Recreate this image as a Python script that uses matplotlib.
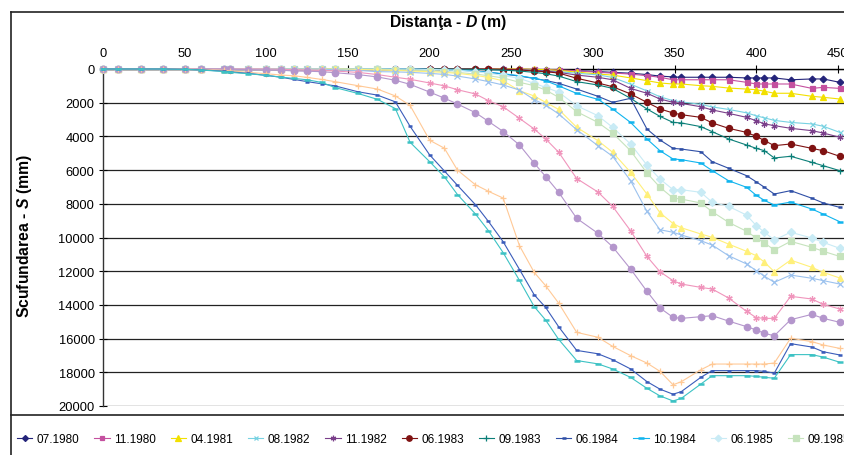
import matplotlib
matplotlib.use("Agg")
import matplotlib.pyplot as plt
from matplotlib.lines import Line2D

plt.rcParams['font.family'] = ['Liberation Sans', 'DejaVu Sans']
plt.rcParams['mathtext.fontset'] = 'custom'
plt.rcParams['mathtext.it'] = 'Liberation Sans:italic:bold'
plt.rcParams['mathtext.rm'] = 'Liberation Sans:bold'

# distance along profile (m)
dist = [0, 9, 23, 37, 50, 60, 74, 78, 89, 100, 109, 117, 125, 134, 142, 156, 168, 179, 188, 200,
        209, 217, 228, 236, 245, 255, 264, 271, 279, 290, 303, 312, 323, 333, 341, 349, 354, 366,
        373, 383, 394, 400, 405, 411, 421, 434, 441, 451]

names = ['07.1980', '11.1980', '04.1981', '08.1982', '11.1982', '06.1983', '09.1983', '06.1984',
         '10.1984', '06.1985', '09.1985', '06.1986', '09.1986', '06.1987', '09.1987', '06.1988',
         '09.1988', '06.1989']
n_legend_visible = 11

s_0780 = [0, 0, 0, 0, 0, 0, 0, 0, 0, 0, 0, 0, 0, 0, 0, 0, 0, 0, 0, 0, 0, 0, 0, 0, 0,
          20, 30, 40, 60, 100, 150, 200, 250, 330, 420, 470, 490, 490, 490, 490, 530, 530, 530, 530,
          640, 590, 590, 790]
s_1180 = [0, 0, 0, 0, 0, 0, 0, 0, 0, 0, 0, 0, 0, 0, 0, 0, 0, 0, 0, 0, 0, 0, 0, 0, 0,
          10, 20, 40, 60, 100, 200, 240, 300, 400, 490, 640, 640, 640, 640, 640, 790, 890, 890, 890,
          890, 1150, 1090, 1150]
s_0481 = [0, 0, 0, 0, 0, 0, 0, 0, 0, 0, 0, 0, 0, 0, 0, 0, 0, 0, 0, 0, 0, 0, 0, 0, 0,
          0, 20, 40, 80, 180, 300, 360, 530, 690, 830, 890, 890, 990, 1030, 1130, 1190, 1230, 1320,
          1440, 1440, 1620, 1680, 1780]
s_0882 = [0, 0, 0, 0, 0, 0, 0, 0, 0, 0, 0, 0, 0, 0, 0, 0, 0, 0, 0, 0, 10, 20, 20, 30, 40,
          60, 80, 110, 160, 250, 350, 500, 900, 1300, 1650, 1880, 1950, 2100, 2250, 2400, 2600, 2780,
          2900, 3050, 3170, 3260, 3400, 3760]
s_1182 = [0, 0, 0, 0, 0, 0, 0, 0, 0, 0, 0, 0, 0, 0, 0, 0, 0, 0, 0, 0, 0, 0, 0, 10, 20,
          40, 80, 120, 200, 360, 490, 640, 1150, 1440, 1780, 1980, 2040, 2240, 2430, 2630, 2870, 3070,
          3260, 3360, 3520, 3660, 3800, 4050]
s_0683 = [0, 0, 0, 0, 0, 0, 0, 0, 0, 0, 0, 0, 0, 0, 0, 0, 0, 0, 0, 0, 0, 0, 0, 10, 30,
          60, 120, 160, 240, 550, 830, 1050, 1480, 1980, 2370, 2610, 2710, 2870, 3200, 3520, 3760, 4000,
          4250, 4550, 4450, 4710, 4850, 5180]
s_0983 = [0, 0, 0, 0, 0, 0, 0, 0, 0, 0, 0, 0, 0, 0, 0, 0, 0, 0, 0, 0, 0, 10, 20, 40, 70,
          120, 200, 280, 420, 750, 950, 1150, 1740, 2370, 2810, 3170, 3200, 3420, 3720, 4150, 4510, 4710,
          4850, 5280, 5180, 5540, 5740, 6030]
s_0684 = [0, 0, 0, 0, 0, 0, 0, 0, 0, 0, 0, 0, 0, 0, 0, 0, 0, 0, 10, 20, 40, 60, 120, 200, 300,
          420, 560, 680, 850, 1190, 1620, 1980, 1740, 3560, 4210, 4710, 4750, 4910, 5500, 5890, 6330, 6700,
          7020, 7420, 7220, 7670, 7950, 8210]
s_1084 = [0, 0, 0, 0, 0, 0, 0, 0, 0, 0, 0, 0, 0, 0, 0, 0, 0, 0, 10, 20, 40, 70, 130, 200, 280,
          400, 550, 700, 1000, 1450, 1800, 2370, 3170, 4150, 4850, 5340, 5380, 5580, 6030, 6630, 7020, 7500,
          7800, 8070, 7900, 8310, 8610, 9060]
s_0685 = [0, 0, 0, 0, 0, 0, 0, 0, 0, 0, 0, 0, 0, 0, 0, 0, 0, 0, 0, 30, 50, 80, 150, 250, 380,
          560, 850, 1090, 1380, 2180, 2770, 3460, 4450, 5700, 6530, 7160, 7160, 7320, 7910, 8150, 8670, 9300,
          9690, 10150, 9690, 10030, 10290, 10640]
s_0985 = [0, 0, 0, 0, 0, 0, 0, 0, 0, 0, 0, 0, 0, 0, 0, 0, 0, 40, 60, 100, 150, 200, 300, 400, 530,
          790, 990, 1250, 1680, 2530, 3170, 3800, 4850, 6170, 7020, 7660, 7720, 7950, 8470, 9100, 9630, 10030,
          10330, 10740, 10230, 10580, 10820, 11120]
s_0686 = [0, 0, 0, 0, 0, 0, 0, 0, 0, 0, 0, 0, 0, 0, 0, 30, 50, 80, 120, 160, 200, 260, 380, 500, 700,
          1290, 1600, 1980, 2400, 3460, 4250, 4940, 6130, 7420, 8530, 9170, 9420, 9790, 9990, 10390, 10820,
          11080, 11470, 12030, 11340, 11770, 12070, 12400]
s_0986 = [0, 0, 0, 0, 0, 0, 0, 0, 0, 0, 0, 0, 0, 0, 50, 80, 160, 170, 200, 260, 320, 420, 590, 750, 950,
          1250, 1820, 2140, 2670, 3600, 4550, 5180, 6630, 8450, 9540, 9690, 9850, 10190, 10450, 11080, 11570,
          11970, 12300, 12660, 12230, 12420, 12560, 12760]
s_0687 = [0, 0, 0, 0, 0, 0, 0, 0, 0, 0, 20, 40, 60, 80, 120, 200, 330, 490, 610, 830, 1000, 1230, 1480,
          1880, 2240, 2930, 3560, 4150, 4940, 6500, 7300, 8150, 9600, 11120, 12030, 12560, 12760, 12960,
          13060, 13590, 14380, 14760, 14800, 14800, 13490, 13650, 13970, 14240]
s_0987 = [0, 0, 0, 0, 0, 0, 0, 10, 40, 60, 70, 120, 130, 160, 220, 330, 470, 670, 910, 1370, 1730, 2080,
          2590, 3110, 3710, 4510, 5590, 6380, 7320, 8860, 9750, 10550, 11870, 13190, 14180, 14740, 14800,
          14700, 14640, 14960, 15290, 15490, 15690, 15830, 14880, 14560, 14800, 15030]
s_0688 = [0, 0, 0, 0, 10, 30, 80, 110, 200, 280, 360, 400, 500, 620, 750, 990, 1190, 1600, 2160, 4230,
          4700, 6000, 6870, 7260, 7660, 10490, 12070, 12860, 13900, 15630, 15920, 16460, 17010, 17450, 17940,
          18740, 18560, 17850, 17510, 17510, 17510, 17510, 17510, 17450, 15980, 16180, 16380, 16580]
s_0988 = [0, 0, 0, 0, 20, 50, 130, 170, 260, 380, 490, 620, 750, 880, 1000, 1350, 1550, 1950, 3400, 5100,
          6050, 6900, 8050, 9050, 10250, 11900, 13400, 14150, 15300, 16700, 16900, 17250, 17800, 18550, 19000,
          19300, 19150, 18300, 17900, 17900, 17900, 17900, 17950, 18050, 16300, 16500, 16780, 16970]
s_0689 = [0, 0, 0, 0, 20, 60, 150, 200, 280, 380, 480, 560, 640, 800, 1100, 1450, 1800, 2350, 4350, 5500,
          6400, 7450, 8600, 9600, 10900, 12550, 14100, 14900, 16050, 17300, 17500, 17800, 18300, 18950, 19400,
          19700, 19550, 18700, 18200, 18200, 18200, 18240, 18300, 18350, 16950, 16950, 17100, 17400]

series = [s_0780, s_1180, s_0481, s_0882, s_1182, s_0683, s_0983, s_0684, s_1084, s_0685, s_0985,
          s_0686, s_0986, s_0687, s_0987, s_0688, s_0988, s_0689]

star = (6, 2, 0)
styles = [
    ('#24247a', 'D', 3.4), ('#c4509f', 's', 3.6), ('#f2e000', '^', 4.4), ('#78d2e2', 'x', 3.6),
    ('#7a3f8a', star, 4.4), ('#7f1212', 'o', 4.4), ('#0b7f78', '+', 4.4), ('#2f4fa6', '_', 3.4),
    ('#10b4ee', '_', 4.2), ('#c9ebf5', 'D', 3.8), ('#c6e3bd', 's', 4.2), ('#fff07a', '^', 4.8),
    ('#9cc2ee', 'x', 4.0), ('#f095bc', star, 4.6), ('#b496cc', 'o', 4.6), ('#ffc996', '+', 4.6),
    ('#3a5cba', '_', 3.4), ('#3cc2c4', '_', 4.2),
]

W, H = 845, 456
fig = plt.figure(figsize=(W / 100, H / 100), dpi=100)
x_left, x_450, y_top, y_bot = 103, 838, 70, 407
ppu = (x_450 - x_left) / 450.0
xmax = 460
ax = fig.add_axes([x_left / W, 1 - y_bot / H, (xmax * ppu) / W, (y_bot - y_top) / H])

handles = []
for vals, (col, mk, ms), name in zip(series, styles, names):
    mew = 1.8 if mk == '_' else 0.9
    ln, = ax.plot(dist, vals, color=col, lw=0.8, marker=mk, ms=ms, mfc=col, mec=col, mew=mew,
                  label=name, clip_on=False, zorder=3)
    handles.append(ln)

ax.set_xlim(0, xmax)
ax.set_ylim(20000, 0)
ax.set_xticks(range(0, 451, 50))
ax.set_yticks(range(0, 20001, 2000))
ax.xaxis.tick_top()
ax.tick_params(axis='x', direction='inout', length=6, width=0.8, labelsize=9.3, pad=4)
ax.tick_params(axis='y', direction='inout', length=6, width=0.8, labelsize=9.3, pad=3)
ax.grid(axis='y', color='#222222', lw=0.9, zorder=0)
for s in ['right', 'bottom']:
    ax.spines[s].set_visible(False)
ax.spines['top'].set_linewidth(1.0)
ax.spines['left'].set_linewidth(1.0)
ax.spines['left'].set_color('#333333')

fig.text(448 / W, 1 - 23 / H, 'Distanţa - $D$ (m)', ha='center', va='center', fontsize=11.3,
         fontweight='bold')
fig.text(25 / W, 1 - 236 / H, 'Scufundarea - $S$ (mm)', ha='center', va='center', rotation=90,
         fontsize=11.3, fontweight='bold')

# chart / legend frames
tf = fig.transFigure
fig.add_artist(Line2D([11 / W, 1], [1 - 13 / H, 1 - 13 / H], transform=tf, color='#222222', lw=1.2))
fig.add_artist(Line2D([11 / W, 11 / W], [0, 1 - 13 / H], transform=tf, color='#222222', lw=1.2))
fig.add_artist(Line2D([11 / W, 1], [1 - 416 / H, 1 - 416 / H], transform=tf, color='#222222', lw=1.2))

fig.legend(handles[:n_legend_visible], names[:n_legend_visible], loc='center left',
           bbox_to_anchor=(17 / W, 1 - 440 / H), ncol=n_legend_visible,
           frameon=False, fontsize=8.5, handlelength=1.3, handletextpad=0.35, columnspacing=1.28,
           borderaxespad=0, borderpad=0, markerscale=0.9)

fig.savefig('out.png', dpi=100)
